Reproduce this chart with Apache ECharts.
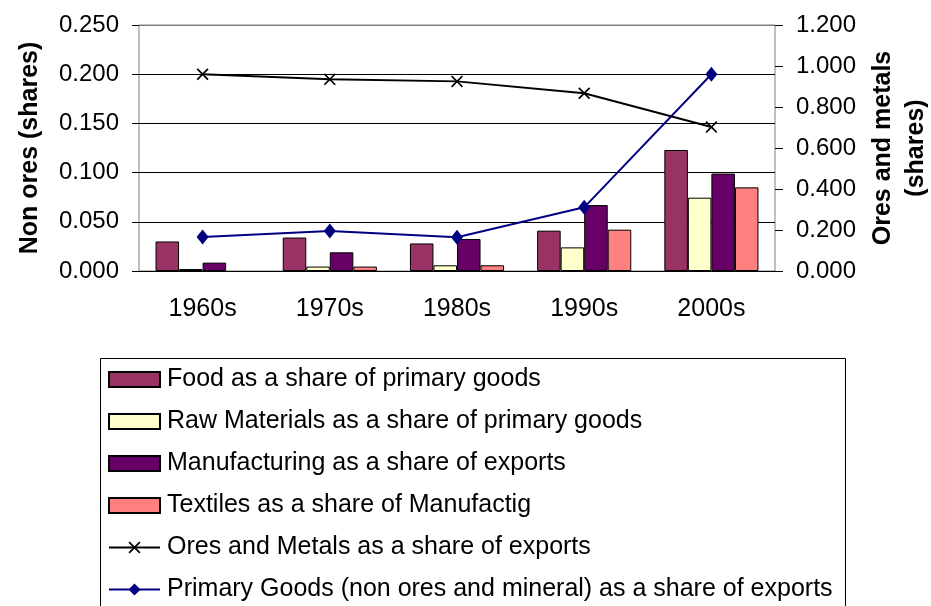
<!DOCTYPE html>
<html>
<head>
<meta charset="utf-8">
<script src="https://cdn.jsdelivr.net/npm/echarts@6/dist/echarts.min.js"></script>
<style>
	html, body { margin: 0; padding: 0; background: #fff; }
	#chartBox { width: 931px; height: 606px; }
</style>
</head>
<body>
<div id="chartBox"></div>
<script>
// categories
var decades = ['1960s', '1970s', '1980s', '1990s', '2000s'];

// bars, left axis (non ores)
var foodShare     = [0.030, 0.034, 0.028, 0.041, 0.123];
var rawShare      = [0.002, 0.0045, 0.0058, 0.024, 0.0745];
var manufShare    = [0.0085, 0.019, 0.0325, 0.067, 0.099];
var textileShare  = [null, 0.0045, 0.0058, 0.042, 0.085];

// lines
var oresShare     = [0.96, 0.935, 0.925, 0.867, 0.702];   // right axis
var primaryShare  = [0.0346, 0.0407, 0.0342, 0.0647, 0.200]; // left axis

var FONT = "'Liberation Sans', Arial, sans-serif";
var xSymbol = 'path://M0,1L1,0L5,4L9,0L10,1L6,5L10,9L9,10L5,6L1,10L0,9L4,5Z';

function barSeries(name, data, color) {
	return {
		name: name,
		type: 'bar',
		data: data,
		barGap: '0%',
		barCategoryGap: '26%',
		itemStyle: { color: color, borderColor: '#000', borderWidth: 1 }
	};
}

var myChart = echarts.init(document.getElementById('chartBox'));
myChart.setOption({
	animation: false,
	textStyle: { fontFamily: FONT },
	grid: {
		left: 139, right: 156, top: 25, bottom: 335,
		containLabel: false,
		outerBoundsMode: 'none',
		show: true, borderColor: '#808080', borderWidth: 1
	},
	// legend frame runs off the bottom of the picture, so drawn separately
	graphic: [{
		type: 'rect',
		left: 98, top: 356,
		shape: { width: 745, height: 300 },
		style: { fill: 'none', stroke: '#000', lineWidth: 1 }
	}],
	legend: {
		orient: 'vertical',
		left: 98, top: 356,
		padding: [11, 6, 0, 10],
		itemWidth: 51, itemHeight: 15, itemGap: 17,
		textStyle: { fontSize: 25, color: '#000', fontFamily: FONT, padding: [0, 0, 0, 2] },
		data: [
			{ name: 'Food as a share of primary goods', icon: 'rect' },
			{ name: 'Raw Materials as a share of primary goods', icon: 'rect' },
			{ name: 'Manufacturing as a share of exports', icon: 'rect' },
			{ name: 'Textiles as a share of Manufactig', icon: 'rect' },
			{ name: 'Ores and Metals as a share of exports' },
			{ name: 'Primary Goods (non ores and mineral) as a share of exports' }
		]
	},
	xAxis: {
		type: 'category',
		data: decades,
		axisLine: { lineStyle: { color: '#000', width: 1 } },
		axisTick: { length: 8, lineStyle: { color: '#000' } },
		axisLabel: { fontSize: 25, color: '#000', margin: 26, fontFamily: FONT }
	},
	yAxis: [
		{
			type: 'value',
			min: 0, max: 0.25, interval: 0.05,
			name: 'Non ores (shares)',
			nameLocation: 'middle',
			nameRotate: 90,
			nameGap: 96,
			nameTextStyle: { fontSize: 25, fontWeight: 'bold', color: '#000', fontFamily: FONT },
			axisLine: { show: false },
			axisTick: { show: true, length: 7, lineStyle: { color: '#000' } },
			axisLabel: { fontSize: 24, color: '#000', margin: 20, fontFamily: FONT,
				formatter: function (v) { return v.toFixed(3); } },
			splitLine: { lineStyle: { color: ['#000', '#000', '#000', '#000', '#000', '#808080'], width: 1 } }
		},
		{
			type: 'value',
			min: 0, max: 1.2, interval: 0.2,
			position: 'right',
			name: 'Ores and metals\n(shares)',
			nameLocation: 'middle',
			nameRotate: 90,
			nameGap: 92,
			nameTextStyle: { fontSize: 25, fontWeight: 'bold', color: '#000', lineHeight: 33, fontFamily: FONT },
			axisLine: { show: false },
			axisTick: { show: true, length: 8, lineStyle: { color: '#000' } },
			axisLabel: { fontSize: 24, color: '#000', margin: 21, fontFamily: FONT,
				formatter: function (v) { return v.toFixed(3); } },
			splitLine: { show: false }
		}
	],
	series: [
		barSeries('Food as a share of primary goods', foodShare, '#993366'),
		barSeries('Raw Materials as a share of primary goods', rawShare, '#FFFFCC'),
		barSeries('Manufacturing as a share of exports', manufShare, '#660066'),
		barSeries('Textiles as a share of Manufactig', textileShare, '#FF8080'),
		{
			name: 'Ores and Metals as a share of exports',
			type: 'line',
			yAxisIndex: 1,
			data: oresShare,
			symbol: xSymbol,
			symbolSize: 12,
			lineStyle: { color: '#000', width: 2 },
			itemStyle: { color: '#000' }
		},
		{
			name: 'Primary Goods (non ores and mineral) as a share of exports',
			type: 'line',
			yAxisIndex: 0,
			data: primaryShare,
			symbol: 'diamond',
			symbolSize: [12, 15],
			lineStyle: { color: '#000080', width: 2 },
			itemStyle: { color: '#000080' }
		}
	]
});
</script>
</body>
</html>
